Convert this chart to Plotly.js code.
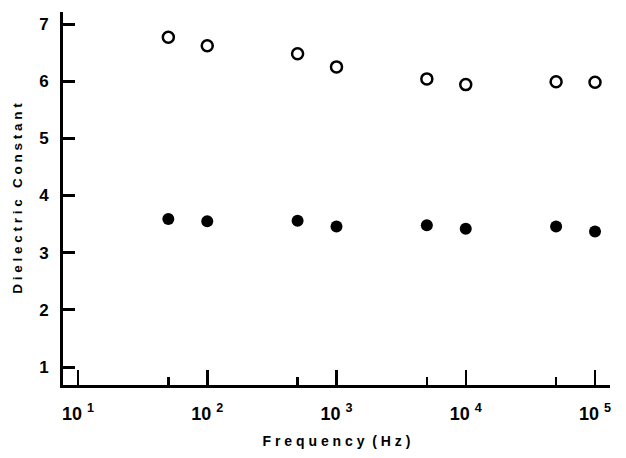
<!DOCTYPE html>
<html><head><meta charset="utf-8">
<script src="https://cdn.plot.ly/plotly-3.0.1.min.js"></script>
<style>html,body{margin:0;padding:0;background:#fff;}#chart{width:626px;height:458px;}</style>
</head><body><div id="chart"></div>
<script>
const freq = [50, 100, 500, 1000, 5000, 10000, 50000, 100000];
const openSeries = [6.77, 6.62, 6.48, 6.25, 6.04, 5.94, 5.99, 5.98];
const filledSeries = [3.59, 3.55, 3.56, 3.46, 3.48, 3.42, 3.46, 3.37];
const xTickVals = [10, 100, 1000, 10000, 100000];
const xTickText = ['10 <sup>1</sup>', '10 <sup>2</sup>', '10 <sup>3</sup>', '10 <sup>4</sup>', '10 <sup>5</sup>'];
const xMinorVals = [50, 500, 5000, 50000];
const yTickVals = [1, 2, 3, 4, 5, 6, 7];

const font = {family: 'Liberation Sans, Arial, sans-serif', color: '#000'};
const traces = [
  {x: freq, y: openSeries, mode: 'markers', type: 'scatter',
   marker: {symbol: 'circle-open', size: 11, color: '#000', line: {width: 2.5, color: '#000'}}},
  {x: freq, y: filledSeries, mode: 'markers', type: 'scatter',
   marker: {symbol: 'circle', size: 12, color: '#000'}}
];
const layout = {
  width: 626, height: 458,
  margin: {l: 63, r: 16, t: 12, b: 73},
  paper_bgcolor: '#fff', plot_bgcolor: '#fff',
  showlegend: false,
  font: font,
  xaxis: {
    type: 'log', range: [0.884, 5.116],
    tickmode: 'array', tickvals: xTickVals, ticktext: xTickText,
    ticks: 'inside', ticklen: 15, tickwidth: 2.5, tickcolor: '#000',
    minor: {tickmode: 'array', tickvals: xMinorVals, ticks: 'inside', ticklen: 8, tickwidth: 2.5, tickcolor: '#000'},
    showline: true, linewidth: 3, linecolor: '#000',
    showgrid: false, zeroline: false,
    ticklabelstandoff: 10,
    tickfont: {family: font.family, size: 18, color: '#000', weight: 'bold'},
    title: {text: '<b>F r e q u e n c y  ( H z )</b>', font: {family: font.family, size: 14, color: '#000'}, standoff: 14}
  },
  yaxis: {
    range: [0.686, 7.21],
    tickmode: 'array', tickvals: yTickVals,
    ticks: 'inside', ticklen: 12, tickwidth: 3, tickcolor: '#000',
    showline: true, linewidth: 3, linecolor: '#000',
    showgrid: false, zeroline: false,
    ticklabelstandoff: 8,
    tickfont: {family: font.family, size: 17, color: '#000', weight: 'bold'},
    title: {text: '<b>D i e l e c t r i c   C o n s t a n t</b>', font: {family: font.family, size: 13.5, color: '#000'}, standoff: 14}
  }
};
Plotly.newPlot('chart', traces, layout, {displayModeBar: false, staticPlot: true});
</script></body></html>
